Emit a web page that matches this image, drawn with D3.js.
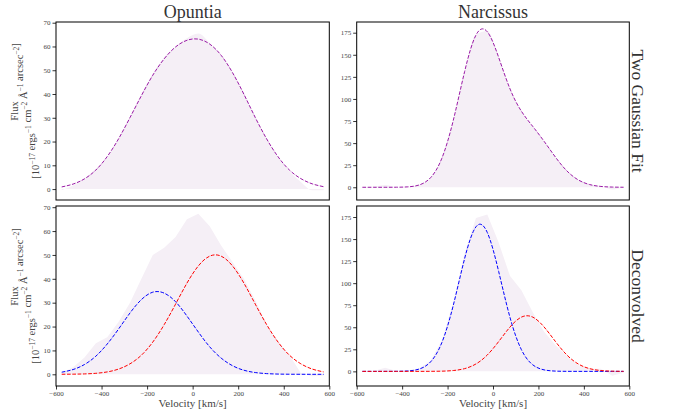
<!DOCTYPE html>
<html>
<head>
<meta charset="utf-8">
<script src="https://cdn.jsdelivr.net/npm/d3@7"></script>
<style>
  body { margin: 0; background: #fff; }
  text { font-family: "Liberation Serif", "DejaVu Serif", serif; }
</style>
</head>
<body>
<svg id="chart" width="676" height="412"></svg>
<script>
// velocity grid (km/s) shared by every series
const velocity = [-575, -525, -475, -425, -375, -325, -275, -225, -175, -125, -75, -25,
                  25, 75, 125, 175, 225, 275, 325, 375, 425, 475, 525, 575];

// Opuntia
const opuntiaFitObs = [-0.5, 1.5, 4.5, 8.5, 13.5, 21.5, 30.5, 40, 48.5, 55.5, 60, 63.5,
                       65.5, 61.5, 56.5, 49.5, 40.5, 30.5, 21.5, 13.5, 7.5, 3, -0.5, -0.5];
const opuntiaFit = [0.9, 2.1, 4.3, 8.0, 13.7, 21.2, 30.1, 39.3, 47.9, 54.8, 59.8, 62.6,
                    63.1, 61.0, 56.3, 49.0, 39.9, 30.1, 21.1, 13.6, 8.0, 4.4, 2.2, 1.0];
const opuntiaObs = [0.5, 3, 7, 13, 15.5, 22, 30, 40, 50, 53, 57.5, 65,
                    67.3, 62, 54, 47, 40, 31, 21, 14, 8, 0.5, -0.8, -0.5];
const opuntiaBlue = [0.88, 2.0, 4.1, 7.6, 12.7, 19.0, 25.7, 31.3, 34.4, 34.0, 30.4, 24.4,
                     17.7, 11.5, 6.8, 3.6, 1.7, 0.74, 0.29, 0.1, 0.03, 0.01, 0, 0];
const opuntiaRed = [0.02, 0.06, 0.16, 0.42, 1.0, 2.2, 4.4, 8.0, 13.5, 20.8, 29.4, 38.2,
                    45.4, 49.5, 49.5, 45.4, 38.2, 29.4, 20.8, 13.5, 8.0, 4.4, 2.2, 1.0];

// Narcissus
const narcissusFitObs = [0, 0.5, 2.5, 0, 0.5, 3, 11, 33.5, 76, 131, 173, 177,
                         147.5, 111.5, 86.5, 69, 52.5, 34.5, 19, 8.5, 3.5, 1.5, -2.5, 0];
const narcissusFit = [0, 0, 0, 0.07, 0.48, 2.6, 10.8, 32.9, 75.6, 130.9, 172.3, 176.0,
                      147.0, 111.3, 86.1, 68.9, 52.0, 34.1, 18.6, 8.4, 3.1, 0.94, 0.23, 0.05];
const narcissusObs = [0, 0.5, 4, 0.5, 1, 3.5, 12, 35, 78, 134, 174, 178,
                      146, 108, 92, 67, 45, 30, 17, 7, 3, 3, -5, -1.5];
const narcissusBlue = [0, 0, 0, 0.07, 0.48, 2.6, 10.7, 32.7, 74.7, 127.8, 163.9, 157.4,
                       113.2, 61.0, 24.6, 7.4, 1.7, 0.29, 0.04, 0, 0, 0, 0, 0];
const narcissusRed = [0, 0, 0, 0, 0, 0, 0.05, 0.23, 0.94, 3.1, 8.4, 18.6,
                      33.8, 50.3, 61.5, 61.5, 50.3, 33.8, 18.6, 8.4, 3.1, 0.94, 0.23, 0.05];

// tick labels
const velocityTicks = [-600, -400, -200, 0, 200, 400, 600];
const opuntiaTicks = [0, 10, 20, 30, 40, 50, 60, 70];
const narcissusTicks = [0, 25, 50, 75, 100, 125, 150, 175];

const colTitles = ["Opuntia", "Narcissus"];
const rowTitles = ["Two Gaussian Fit", "Deconvolved"];

const fillColor = "#f5eff6";
const fitColor = "#9a1aa6";

const svg = d3.select("#chart");
const colX = [[56, 329.3], [356.7, 629.3]];
const rowY = [[22, 200], [206, 386]];

const panels = [
  {row: 0, col: 0, yDom: [-4.6, 70.3], yTicks: opuntiaTicks, fill: opuntiaFitObs,
   lines: [{v: opuntiaFit, c: fitColor}]},
  {row: 0, col: 1, yDom: [-14.4, 187.1], yTicks: narcissusTicks, fill: narcissusFitObs,
   lines: [{v: narcissusFit, c: fitColor}]},
  {row: 1, col: 0, yDom: [-4.9, 70.5], yTicks: opuntiaTicks, fill: opuntiaObs, raw: true,
   lines: [{v: opuntiaBlue, c: "#0000ff"}, {v: opuntiaRed, c: "#ff0000"}]},
  {row: 1, col: 1, yDom: [-16.6, 187.5], yTicks: narcissusTicks, fill: narcissusObs, raw: true,
   lines: [{v: narcissusBlue, c: "#0000ff"}, {v: narcissusRed, c: "#ff0000"}]}
];

panels.forEach((p, k) => {
  let [x0, x1] = colX[p.col];
  let [y0, y1] = rowY[p.row];
  let x = d3.scaleLinear().domain([-600, 600]).range([x0, x1]);
  let y = d3.scaleLinear().domain(p.yDom).range([y1, y0]);

  svg.append("clipPath").attr("id", "clip" + k)
     .append("rect").attr("x", x0).attr("y", y0).attr("width", x1 - x0).attr("height", y1 - y0);
  let g = svg.append("g").attr("clip-path", `url(#clip${k})`);

  let area = d3.area()
      .x((d, i) => x(velocity[i]))
      .y0(y(0))
      .y1(d => y(d))
      .curve(p.raw ? d3.curveLinear : d3.curveMonotoneX);
  g.append("path").attr("d", area(p.fill)).attr("fill", fillColor);

  let line = d3.line()
      .x((d, i) => x(velocity[i]))
      .y(d => y(d))
      .curve(d3.curveNatural);
  p.lines.forEach(l => {
    g.append("path").attr("d", line(l.v))
     .attr("fill", "none").attr("stroke", l.c)
     .attr("stroke-width", 1).attr("stroke-dasharray", "3.7,1.6");
  });

  // y axis
  let ya = svg.append("g").attr("transform", `translate(${x0},0)`)
      .call(d3.axisLeft(y).tickValues(p.yTicks).tickSize(3.5).tickPadding(2).tickFormat(d3.format("d")));
  ya.select(".domain").remove();
  ya.selectAll("text").attr("font-size", 7).attr("fill", "#444");
  ya.selectAll("line").attr("stroke", "#000").attr("stroke-width", 0.8);

  // x axis only on the bottom row
  if (p.row == 1) {
    let xa = svg.append("g").attr("transform", `translate(0,${y1})`)
        .call(d3.axisBottom(x).tickValues(velocityTicks).tickSize(3.5).tickPadding(2).tickFormat(d3.format("d")));
    xa.select(".domain").remove();
    xa.selectAll("text").attr("font-size", 7).attr("fill", "#444");
    xa.selectAll("line").attr("stroke", "#000").attr("stroke-width", 0.8);

    svg.append("text").attr("x", (x0 + x1) / 2).attr("y", 407)
       .attr("text-anchor", "middle").attr("font-size", 11).attr("fill", "#444")
       .text("Velocity [km/s]");
  }

  // frame
  svg.append("rect").attr("x", x0).attr("y", y0).attr("width", x1 - x0).attr("height", y1 - y0)
     .attr("fill", "none").attr("stroke", "#000").attr("stroke-width", 1);

  if (p.row == 0) {
    svg.append("text").attr("x", (x0 + x1) / 2).attr("y", 18)
       .attr("text-anchor", "middle").attr("font-size", 18).attr("fill", "#333")
       .text(colTitles[p.col]);
  }
  if (p.col == 1) {
    let cy = (y0 + y1) / 2;
    svg.append("text").attr("transform", `translate(632,${cy}) rotate(90)`)
       .attr("text-anchor", "middle").attr("font-size", 17.5).attr("fill", "#333")
       .text(rowTitles[p.row]);
  }
  if (p.col == 0) {
    let cy = (y0 + y1) / 2;
    svg.append("text").attr("transform", `translate(18,${cy}) rotate(-90)`)
       .attr("text-anchor", "middle").attr("font-size", 10.5).attr("fill", "#444")
       .text("Flux");
    let t = svg.append("text").attr("transform", `translate(38.5,${cy}) rotate(-90)`)
       .attr("text-anchor", "middle").attr("font-size", 10.5).attr("fill", "#444");
    const parts = [["[10", "−17"], [" ergs", "−1"], [" cm", "−2"], [" Å", "−1"], [" arcsec", "−2"], ["]", null]];
    parts.forEach(([base, sup]) => {
      t.append("tspan").attr("dy", 0).text(base);
      if (sup) {
        t.append("tspan").attr("font-size", 7.5).attr("dy", -4).text(sup);
        t.append("tspan").attr("dy", 4).text("");
      }
    });
  }
});
</script>
</body>
</html>
